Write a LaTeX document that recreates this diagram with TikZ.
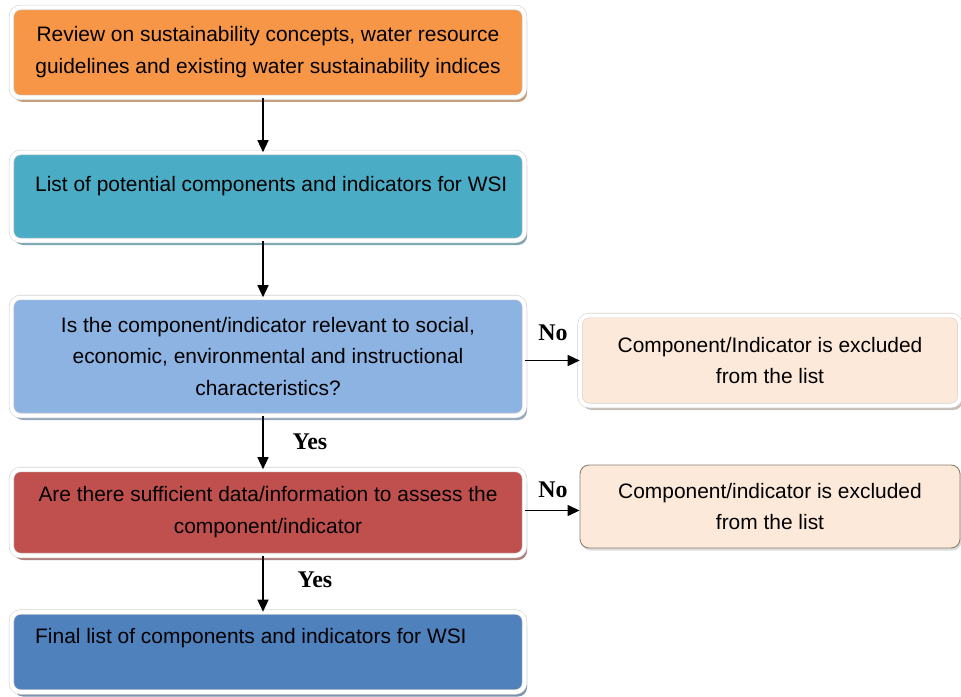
\documentclass[tikz,border=0pt]{standalone}
\usepackage{fontspec}
\setmainfont{Liberation Sans}
\newfontfamily\lblfont{Liberation Serif}
\usepackage{tikz}
\usetikzlibrary{arrows.meta}
\usetikzlibrary{shadows}

\definecolor{revorange}{HTML}{F79646}
\definecolor{listteal}{HTML}{4BACC6}
\definecolor{relblue}{HTML}{8DB3E2}
\definecolor{datared}{HTML}{C0504D}
\definecolor{finblue}{HTML}{4F81BD}
\definecolor{exclpeach}{HTML}{FCE9DA}

\tikzset{
    frame/.style={fill=#1, draw=gray!35, double=white, double distance=4bp, line width=0.6bp,
        rounded corners=9bp, inner sep=0pt, align=center,
        drop shadow={shadow xshift=2.5bp, shadow yshift=-4.5bp, fill=#1!50!gray, opacity=0.85},
        font=\fontsize{21}{32}\selectfont},
    plainframe/.style={fill=exclpeach, draw=gray!80!brown, line width=0.9bp,
        rounded corners=9bp, inner sep=0pt, align=center,
        drop shadow={shadow xshift=1.5bp, shadow yshift=-2.5bp, fill=gray!40, opacity=0.7},
        font=\fontsize{21}{32}\selectfont},
    txt/.style={font=\fontsize{21}{32}\selectfont, inner sep=0pt},
    yesno/.style={font=\lblfont\bfseries\fontsize{24}{28}\selectfont, inner sep=0pt},
    arr/.style={-{Triangle[length=12bp,width=11bp]}, line width=1.4bp}
}

\begin{document}
\begin{tikzpicture}[x=1bp,y=-1bp]
    \useasboundingbox (0,0) rectangle (961,697);

        % main column
        \node[frame=revorange, minimum width=513bp, minimum height=90bp] (rev) at (268,52.5)
            {Review on sustainability concepts, water resource\\guidelines and existing water sustainability indices};
        \node[frame=listteal, minimum width=513bp, minimum height=88bp] (lst) at (268,196.5) {};
        \node[txt, anchor=west] (lsttxt) at (35,186) {List of potential components and indicators for WSI};
        \node[frame=relblue, minimum width=513bp, minimum height=118bp] (rel) at (268,356.5)
            {Is the component/indicator relevant to social,\\economic, environmental and instructional\\characteristics?};
        \node[frame=datared, minimum width=513bp, minimum height=86bp] (dat) at (268,512.5)
            {Are there sufficient data/information to assess the\\component/indicator};
        \node[frame=finblue, minimum width=513bp, minimum height=80bp] (fin) at (268,652) {};
        \node[txt, anchor=west] (fintxt) at (35,638) {Final list of components and indicators for WSI};

        % excluded
        \node[frame=exclpeach, minimum width=380bp, minimum height=90bp] (exa) at (770,360.5)
            {Component/Indicator is excluded\\from the list};
        \node[plainframe, minimum width=380bp, minimum height=83bp] (exb) at (770,506.5)
            {Component/indicator is excluded\\from the list};

        % arrows
        \draw[arr] ([xshift=-5bp]rev.south) -- ([xshift=-5bp]lst.north);
        \draw[arr] ([xshift=-5bp]lst.south) -- ([xshift=-5bp]rel.north);
        \draw[arr] ([xshift=-5bp]rel.south) -- ([xshift=-5bp]dat.north);
        \draw[arr] ([xshift=-5bp]dat.south) -- ([xshift=-5bp]fin.north);
        \draw[arr] (exa.west -| rel.east) -- (exa.west);
        \draw[arr] ([yshift=-4bp]exb.west -| dat.east) -- ([yshift=-4bp]exb.west);

        \node[yesno] (no1) at (553,333) {No};
        \node[yesno] (no2) at (553,490) {No};
        \node[yesno] (yes1) at (310,442) {Yes};
        \node[yesno] (yes2) at (315,580) {Yes};
    \end{tikzpicture}
\end{document}
